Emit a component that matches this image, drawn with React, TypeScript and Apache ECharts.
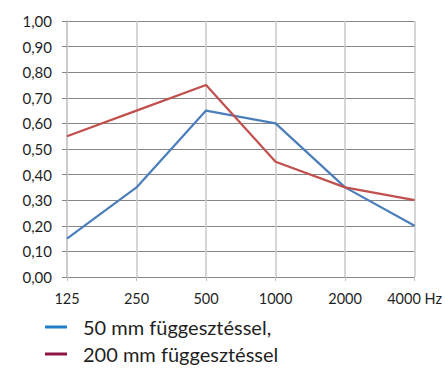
import React, { useEffect, useRef } from "react";
import * as echarts from "echarts";

const categories = ["125", "250", "500", "1000", "2000", "4000 Hz"];
const series50 = [0.15, 0.35, 0.65, 0.6, 0.35, 0.2];
const series200 = [0.55, 0.65, 0.75, 0.45, 0.35, 0.3];
const seriesNames = ["50 mm függesztéssel,", "200 mm függesztéssel"];

export default function App() {
  const ref = useRef<HTMLDivElement>(null);
  useEffect(() => {
    const chart = echarts.init(ref.current!, null, { renderer: "svg" });
    const font = "Lato, 'Open Sans', sans-serif";
    chart.setOption({
      animation: false,
      grid: { left: 67, right: 30, top: 21, bottom: 92 },
      xAxis: {
        type: "category",
        data: categories,
        boundaryGap: false,
        axisLine: { lineStyle: { color: "#868686", width: 1 } },
        axisTick: { show: true, length: 4, alignWithLabel: true, interval: 0, lineStyle: { color: "#bfbfbf" } },
        splitLine: { show: true, interval: 0, lineStyle: { color: "#c8c8c8", width: 1.5 } },
        axisLabel: { color: "#1f1f1f", fontSize: 14.5, fontFamily: font, margin: 14, interval: 0, hideOverlap: false },
      },
      yAxis: {
        type: "value",
        min: 0,
        max: 1,
        interval: 0.1,
        axisLine: { show: true, lineStyle: { color: "#c8c8c8", width: 1.5 } },
        axisTick: { show: true, length: 5, lineStyle: { color: "#868686" } },
        splitLine: { show: true, lineStyle: { color: "#868686", width: 1 } },
        axisLabel: {
          color: "#1f1f1f",
          fontSize: 15,
          fontFamily: font,
          margin: 15,
          formatter: (v: number) => v.toFixed(2).replace(".", ","),
        },
      },
      legend: {
        orient: "vertical",
        left: 45,
        top: 317,
        padding: 0,
        itemWidth: 22,
        itemHeight: 3,
        itemGap: 7,
        icon: "rect",
        textStyle: { fontSize: 20, color: "#1f1f1f", fontFamily: font, padding: [0, 0, 0, 11] },
        data: [
          { name: seriesNames[0], itemStyle: { color: "#1f7cc8" } },
          { name: seriesNames[1], itemStyle: { color: "#8c1746" } },
        ],
      },
      series: [
        {
          name: seriesNames[0],
          type: "line",
          data: series50,
          symbol: "none",
          lineStyle: { color: "#4a7ebb", width: 2.2 },
          itemStyle: { color: "#1f7cc8" },
        },
        {
          name: seriesNames[1],
          type: "line",
          data: series200,
          symbol: "none",
          lineStyle: { color: "#c0504d", width: 2.2 },
          itemStyle: { color: "#8c1746" },
        },
      ],
    });
    return () => chart.dispose();
  }, []);
  return (
    <div
      ref={ref}
      style={{ position: "absolute", left: 0, top: 0, width: 445, height: 369 }}
    />
  );
}
